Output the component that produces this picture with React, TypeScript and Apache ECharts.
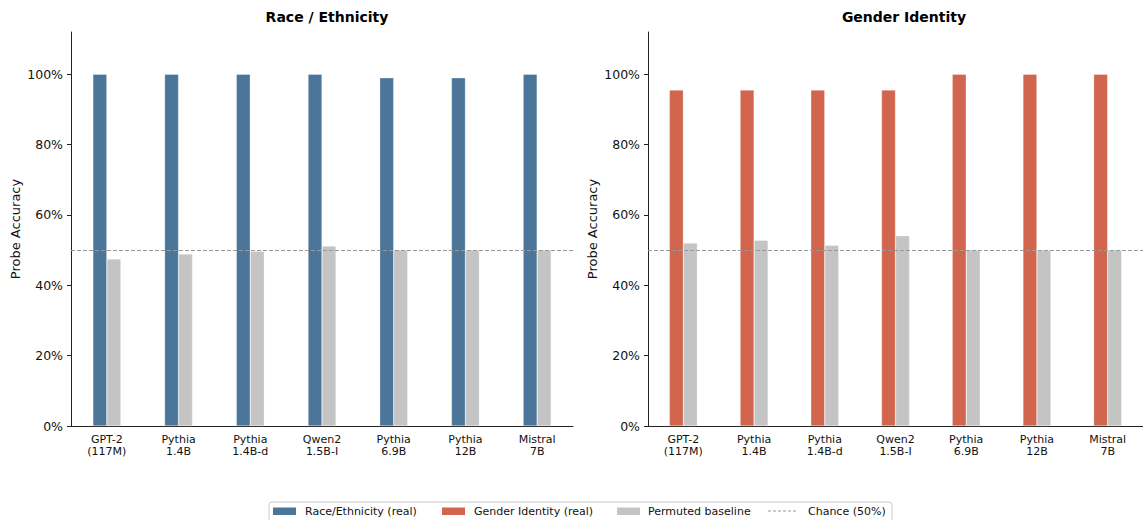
import React, { useEffect, useRef } from "react";
import * as echarts from "echarts";

const models = ["GPT-2\n(117M)", "Pythia\n1.4B", "Pythia\n1.4B-d", "Qwen2\n1.5B-I", "Pythia\n6.9B", "Pythia\n12B", "Mistral\n7B"];
const raceReal = [100, 100, 100, 100, 99, 99, 100];
const racePerm = [47.5, 48.9, 49.7, 51.2, 50, 50, 50];
const genderReal = [95.5, 95.5, 95.5, 95.5, 100, 100, 100];
const genderPerm = [52.0, 52.8, 51.4, 54.1, 50, 50, 50];
const chance = 50;
const yTicks = [0, 20, 40, 60, 80, 100];
const titles = ["Race / Ethnicity", "Gender Identity"];
const legendNames = ["Race/Ethnicity (real)", "Gender Identity (real)", "Permuted baseline", "Chance (50%)"];

const BLUE = "#4c7699";
const RED = "#d1654e";
const GRAY = "#c4c4c4";
const FONT = "DejaVu Sans";

export default function App() {
  const ref = useRef<HTMLDivElement>(null);
  useEffect(() => {
    if (!ref.current) return;
    const chart = echarts.init(ref.current, undefined, { renderer: "svg" });
    const grids = [
      { left: 71, top: 32, width: 502, height: 394 },
      { left: 648, top: 32, width: 502, height: 394 },
    ];
    const xAxis = grids.map((_, i) => ({
      type: "category",
      gridIndex: i,
      data: models,
      axisLine: { lineStyle: { color: "#222", width: 1 } },
      axisTick: { alignWithLabel: true, length: 4, lineStyle: { color: "#222" } },
      axisLabel: { color: "#111", fontSize: 11, fontFamily: FONT, margin: 7, lineHeight: 12, interval: 0 },
    }));
    const yAxis = grids.map((_, i) => ({
      type: "value",
      gridIndex: i,
      min: 0,
      max: 112,
      interval: 20,
      name: "Probe Accuracy",
      nameLocation: "middle",
      nameGap: 49,
      nameTextStyle: { color: "#111", fontSize: 13, fontFamily: FONT },
      splitLine: { show: false },
      axisLine: { show: true, lineStyle: { color: "#222", width: 1 } },
      axisTick: { show: true, length: 4, customValues: yTicks, lineStyle: { color: "#222" } },
      axisLabel: {
        color: "#111",
        fontSize: 12.5,
        fontFamily: FONT,
        margin: 8,
        customValues: yTicks,
        formatter: (v: number) => `${v}%`,
      },
    }));
    const markLine = {
      silent: true,
      symbol: "none",
      label: { show: false },
      lineStyle: { color: "#999", type: [4, 2], width: 1 },
      data: [{ yAxis: chance }],
    };
    const bar = (name: string, data: number[], color: string, idx: number, withLine: boolean) => ({
      type: "bar",
      name,
      data,
      xAxisIndex: idx,
      yAxisIndex: idx,
      barWidth: 14,
      barGap: "0%",
      itemStyle: { color, borderColor: "rgba(255,255,255,0.6)", borderWidth: 0.5 },
      markLine: withLine ? markLine : undefined,
    });
    const legendItems: any[] = [
      { kind: "rect", color: BLUE, x: 273, tx: 305, name: legendNames[0] },
      { kind: "rect", color: RED, x: 442, tx: 474, name: legendNames[1] },
      { kind: "rect", color: GRAY, x: 617, tx: 648, name: legendNames[2] },
      { kind: "line", color: "#999", x: 768, tx: 808, name: legendNames[3] },
    ];
    const graphic: any[] = [
      {
        type: "rect",
        shape: { x: 269, y: 502, width: 623, height: 24, r: 3 },
        style: { fill: "#fff", stroke: "#ccc", lineWidth: 1 },
        z: 10,
      },
    ];
    legendItems.forEach((it) => {
      if (it.kind === "rect") {
        graphic.push({
          type: "rect",
          shape: { x: it.x, y: 507.5, width: 23, height: 7.5 },
          style: { fill: it.color },
          z: 11,
        });
      } else {
        graphic.push({
          type: "line",
          shape: { x1: it.x, y1: 511, x2: it.x + 29, y2: 511 },
          style: { stroke: it.color, lineWidth: 1, lineDash: [3, 2] },
          z: 11,
        });
      }
      graphic.push({
        type: "text",
        x: it.tx,
        y: 511,
        style: { text: it.name, fill: "#111", fontSize: 11, fontFamily: FONT, verticalAlign: "middle", align: "left" },
        z: 11,
      });
    });
    chart.setOption({
      animation: false,
      backgroundColor: "#fff",
      title: titles.map((t, i) => ({
        text: t,
        left: grids[i].left + grids[i].width / 2,
        textAlign: "center",
        top: 5,
        textStyle: { fontSize: 14, fontWeight: "bold", color: "#000", fontFamily: FONT },
      })),
      grid: grids,
      xAxis,
      yAxis,
      series: [
        bar(legendNames[0], raceReal, BLUE, 0, false),
        bar(legendNames[2], racePerm, GRAY, 0, true),
        bar(legendNames[1], genderReal, RED, 1, false),
        bar(legendNames[2], genderPerm, GRAY, 1, true),
      ],
      graphic,
    });
    return () => chart.dispose();
  }, []);
  return <div ref={ref} style={{ position: "absolute", left: 0, top: 0, width: 1143, height: 520 }} />;
}
